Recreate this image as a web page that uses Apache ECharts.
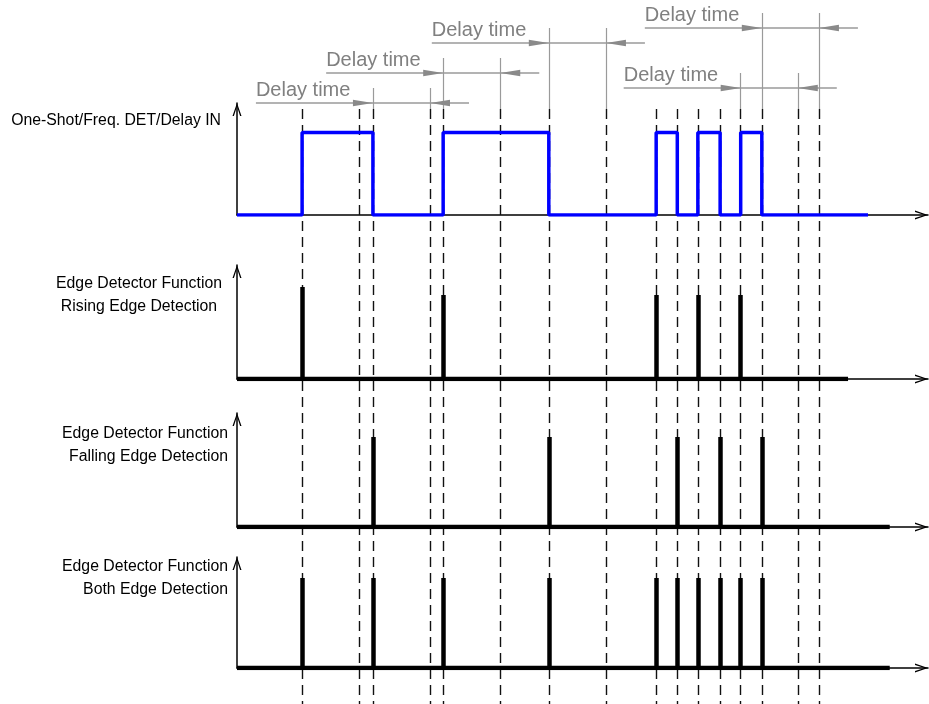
<!DOCTYPE html>
<html><head><meta charset="utf-8">
<script src="https://cdn.jsdelivr.net/npm/echarts@6/dist/echarts.min.js"></script>
<style>html,body{margin:0;padding:0;background:#fff}#c{width:929px;height:704px}</style>
</head><body><div id="c"></div>
<script>
// ---------------- data (time in ms) ----------------
const risingEdges = [11.4, 36.1, 73.4, 80.7, 88.2];
const fallingEdges = [23.8, 54.6, 77.1, 84.6, 91.9];
const delayTime = 10;
const delayMarkedEdges = [11.4, 23.8, 36.1, 54.6, 88.2, 91.9];
const dimensionEdges = [23.8, 36.1, 54.6, 88.2, 91.9];
const dimensionLabel = 'Delay time';
const inputEnd = 110.5;
const risingEnd = 107.0;
const fallingEnd = 114.3;
const bothEnd = 114.3;
const risingPulseHeights = [1.095, 1, 1, 1, 1];
const fallingPulseHeights = [1, 1, 1, 1, 1];
const bothPulseHeights = [1, 1, 1, 1, 1, 1, 1, 1, 1, 1];
const panelLabels = [
  'One-Shot/Freq. DET/Delay IN',
  'Edge Detector Function\nRising Edge Detection',
  'Edge Detector Function\nFalling Edge Detection',
  'Edge Detector Function\nBoth Edge Detection'
];
const timeMax = 121;

// ---------------- layout ----------------
const H = 704, X0 = 237, XW = 691;
const panels = [
  {top: 103, base: 215, max: 1.358},
  {top: 265, base: 379, max: 1.357},
  {top: 413, base: 527, max: 1.267},
  {top: 557, base: 668, max: 1.233}
];
const dimRowY = [103, 73, 43, 88, 28];
const dashTop = 109;
const FONT = '"Liberation Sans", Arial, sans-serif';
const chevron = 'path://M0,13 L4.5,0 L9,13 L7.6,13 L4.5,3.6 L1.4,13 Z';

const grids = panels.map(p => ({left: X0, width: XW, top: p.top, height: p.base - p.top, outerBoundsMode: 'none'}));
grids.push({left: X0, width: XW, top: 0, height: H, outerBoundsMode: 'none'});

const axisLineStyle = {
  show: true, onZero: false,
  symbol: ['none', chevron], symbolSize: [9, 13], symbolOffset: [0, -6.5],
  lineStyle: {color: '#000', width: 1.5}
};
const xAxes = panels.map((p, i) => ({
  gridIndex: i, type: 'value', min: 0, max: timeMax,
  axisLine: axisLineStyle, axisTick: {show: false}, axisLabel: {show: false}, splitLine: {show: false}
}));
xAxes.push({gridIndex: 4, type: 'value', min: 0, max: timeMax, show: false});
const yAxes = panels.map((p, i) => ({
  gridIndex: i, type: 'value', min: 0, max: p.max,
  axisLine: axisLineStyle, axisTick: {show: false}, axisLabel: {show: false}, splitLine: {show: false}
}));
yAxes.push({gridIndex: 4, type: 'value', min: 0, max: H, inverse: true, show: false});

// input square wave
const inputPts = [[0, 0]];
risingEdges.forEach((r, i) => {
  const f = fallingEdges[i];
  inputPts.push([r, 0], [r, 1], [f, 1], [f, 0]);
});
inputPts.push([inputEnd, 0]);

const bothEdges = risingEdges.concat(fallingEdges).sort((a, b) => a - b);

function baseline(idx, end) {
  return {type: 'line', xAxisIndex: idx, yAxisIndex: idx, data: [[0, 0], [end, 0]],
    symbol: 'none', lineStyle: {color: '#000', width: 4.5, cap: 'butt'}, z: 3, silent: true};
}
function spikes(idx, times, heights) {
  return {type: 'lines', coordinateSystem: 'cartesian2d', xAxisIndex: idx, yAxisIndex: idx,
    data: times.map((t, i) => ({coords: [[t, 0], [t, heights[i]]]})),
    lineStyle: {color: '#000', width: 4.5, opacity: 1, curveness: 0, cap: 'butt'}, z: 4, silent: true};
}

const dashTimes = Array.from(new Set(bothEdges.concat(delayMarkedEdges.map(t => +(t + delayTime).toFixed(2))))).sort((a, b) => a - b);

const extLines = [];
dimensionEdges.forEach((t, i) => {
  const top = dimRowY[i] - 15;
  extLines.push({coords: [[t, top], [t, dashTop]]});
  extLines.push({coords: [[t + delayTime, top], [t + delayTime, dashTop]]});
});

const series = [
  {type: 'line', xAxisIndex: 0, yAxisIndex: 0, data: inputPts, symbol: 'none',
    lineStyle: {color: '#0000ff', width: 3.5}, z: 4, silent: true},
  baseline(1, risingEnd), spikes(1, risingEdges, risingPulseHeights),
  baseline(2, fallingEnd), spikes(2, fallingEdges, fallingPulseHeights),
  baseline(3, bothEnd), spikes(3, bothEdges, bothPulseHeights),
  {type: 'lines', coordinateSystem: 'cartesian2d', xAxisIndex: 4, yAxisIndex: 4,
    data: dashTimes.map(t => ({coords: [[t, dashTop], [t, H]]})),
    lineStyle: {color: '#111', width: 1.4, opacity: 1, type: [10, 6], curveness: 0}, z: 2, silent: true},
  {type: 'lines', coordinateSystem: 'cartesian2d', xAxisIndex: 4, yAxisIndex: 4,
    data: extLines,
    lineStyle: {color: '#9a9a9a', width: 1.2, opacity: 1, curveness: 0}, z: 2, silent: true},
  {type: 'custom', xAxisIndex: 4, yAxisIndex: 4, z: 5, silent: true, clip: false,
    data: dimensionEdges.map((t, i) => [t, t + delayTime, i]),
    encode: {x: [0, 1], y: 2},
    renderItem: function (params, api) {
      const a = api.value(0), b = api.value(1), row = api.value(2);
      const y = dimRowY[row];
      const p1 = api.coord([a, y]), p2 = api.coord([b, y]);
      const x1 = p1[0], x2 = p2[0], yy = p1[1];
      return {type: 'group', children: [
        {type: 'line', shape: {x1: x1 - 117, y1: yy, x2: x2 + 39, y2: yy},
          style: {stroke: '#9a9a9a', lineWidth: 1.5}},
        {type: 'polygon', shape: {points: [[x1, yy], [x1 - 20, yy - 3.2], [x1 - 20, yy + 3.2]]},
          style: {fill: '#8a8a8a'}},
        {type: 'polygon', shape: {points: [[x2, yy], [x2 + 20, yy - 3.2], [x2 + 20, yy + 3.2]]},
          style: {fill: '#8a8a8a'}},
        {type: 'text', x: x1 - 117, y: yy - 12.7,
          style: {text: dimensionLabel, fill: '#808080', font: '20px ' + FONT,
            align: 'left', textAlign: 'left', verticalAlign: 'middle', textVerticalAlign: 'middle'}}
      ]};
    }
  }
];

const labelSpecs = [
  {x: 221, y: 120.2, align: 'right', va: 'middle'},
  {x: 139, y: 272.6, align: 'center', va: 'top'},
  {x: 228, y: 422.6, align: 'right', va: 'top'},
  {x: 228, y: 555.6, align: 'right', va: 'top'}
];
const graphic = panelLabels.map((txt, i) => {
  const s = labelSpecs[i];
  return {type: 'text', x: s.x, y: s.y, silent: true,
    style: {text: txt, fill: '#000', font: '15.8px ' + FONT, lineHeight: 22.4,
      align: s.align, textAlign: s.align, verticalAlign: s.va, textVerticalAlign: s.va}};
});

const chart = echarts.init(document.getElementById('c'), null, {renderer: 'canvas'});
chart.setOption({
  animation: false,
  backgroundColor: '#fff',
  grid: grids,
  xAxis: xAxes,
  yAxis: yAxes,
  series: series,
  graphic: graphic
});
</script>
</body></html>
